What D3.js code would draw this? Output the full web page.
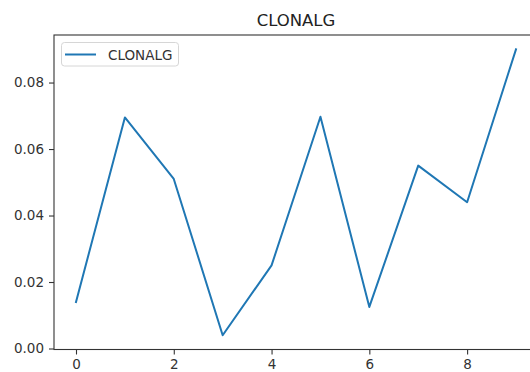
<!DOCTYPE html>
<html>
<head>
<meta charset="utf-8">
<script src="https://cdn.jsdelivr.net/npm/d3@7"></script>
<style>
  html, body { margin: 0; padding: 0; background: #fff; }
  svg { display: block; }
  text { font-family: "DejaVu Sans", sans-serif; }
</style>
</head>
<body>
<svg id="chart" width="530" height="372"></svg>
<script>
const seriesName = "CLONALG";
const xValues = [0, 1, 2, 3, 4, 5, 6, 7, 8, 9];
const yValues = [0.014, 0.0695, 0.051, 0.004, 0.025, 0.0697, 0.0125, 0.055, 0.044, 0.090];
const xTicks = [0, 2, 4, 6, 8];
const yTicks = [0.00, 0.02, 0.04, 0.06, 0.08];

const W = 530, H = 372;
const mLeft = 54, mRight = 538, mTop = 35, mBottom = 349.5;

const svg = d3.select("#chart");

const xmin = d3.min(xValues), xmax = d3.max(xValues);
const xm = (xmax - xmin) * 0.05;
const ymin = d3.min(yValues), ymax = d3.max(yValues);
const ym = (ymax - ymin) * 0.05;

const x = d3.scaleLinear().domain([xmin - xm, xmax + xm]).range([mLeft, mRight]);
const y = d3.scaleLinear().domain([ymin - ym, ymax + ym]).range([mBottom, mTop]);

// line
const line = d3.line().x((d, i) => x(xValues[i])).y(d => y(d));
svg.append("path")
  .datum(yValues)
  .attr("d", line)
  .attr("fill", "none")
  .attr("stroke", "#1f77b4")
  .attr("stroke-width", 2)
  .attr("stroke-linejoin", "round")
  .attr("stroke-linecap", "square");

// axes
const xAxis = d3.axisBottom(x).tickValues(xTicks).tickFormat(d3.format("d")).tickSizeOuter(0).tickSize(5).tickPadding(5);
const yAxis = d3.axisLeft(y).tickValues(yTicks).tickFormat(d3.format(".2f")).tickSizeOuter(0).tickSize(5).tickPadding(5);

const gx = svg.append("g").attr("transform", `translate(0,${mBottom})`).call(xAxis);
const gy = svg.append("g").attr("transform", `translate(${mLeft},0)`).call(yAxis);
[gx, gy].forEach(g => {
  g.select(".domain").remove();
  g.selectAll(".tick line").attr("stroke", "#333").attr("stroke-width", 1.1);
  g.selectAll(".tick text").attr("fill", "#333").style("font-size", "13.5px").style("font-family", "DejaVu Sans, sans-serif");
});

// spines
svg.append("rect")
  .attr("x", mLeft).attr("y", mTop)
  .attr("width", mRight - mLeft).attr("height", mBottom - mTop)
  .attr("fill", "none").attr("stroke", "#333").attr("stroke-width", 1.1);

// title
svg.append("text")
  .attr("x", (mLeft + mRight) / 2).attr("y", 26)
  .attr("text-anchor", "middle")
  .attr("fill", "#222")
  .style("font-size", "16.5px")
  .text(seriesName);

// legend
const lg = svg.append("g");
lg.append("rect")
  .attr("x", 61.5).attr("y", 42.5).attr("width", 117).attr("height", 23.5)
  .attr("rx", 3).attr("fill", "#fff").attr("fill-opacity", 0.8)
  .attr("stroke", "#d6d6d6").attr("stroke-width", 1);
lg.append("line")
  .attr("x1", 65).attr("x2", 96).attr("y1", 54.5).attr("y2", 54.5)
  .attr("stroke", "#1f77b4").attr("stroke-width", 2);
lg.append("text")
  .attr("x", 108).attr("y", 59.5)
  .attr("fill", "#333")
  .style("font-size", "13.5px")
  .text(seriesName);
</script>
</body>
</html>
